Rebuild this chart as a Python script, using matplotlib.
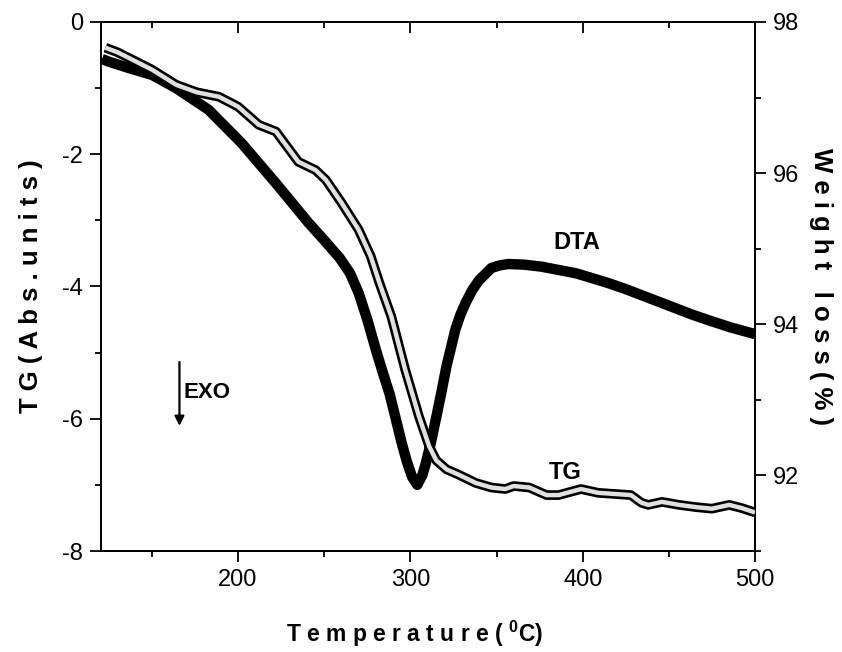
import numpy as np
import matplotlib
matplotlib.use('Agg')
import matplotlib.pyplot as plt
from matplotlib.ticker import MultipleLocator

# --- Data ---
# DTA curve, left axis (filled diamonds)
dta_temp = [121, 125, 137, 150, 164, 183, 202, 222, 241, 250, 259, 265, 270,
            275, 280, 284, 288, 292, 295, 298, 301, 304, 307, 309, 312, 315,
            318, 321, 324, 326, 329, 332, 336, 340, 344, 347, 352, 357, 366,
            376, 386, 396, 405, 415, 425, 434, 444, 454, 463, 473, 486, 500]
dta_val = [-0.56, -0.60, -0.70, -0.80, -1.00, -1.33, -1.83, -2.44, -3.04,
           -3.30, -3.57, -3.80, -4.10, -4.50, -4.96, -5.30, -5.63, -6.05,
           -6.37, -6.65, -6.88, -7.00, -6.85, -6.67, -6.35, -5.98, -5.60,
           -5.20, -4.88, -4.66, -4.43, -4.25, -4.05, -3.90, -3.80, -3.72,
           -3.68, -3.66, -3.67, -3.70, -3.75, -3.80, -3.87, -3.95, -4.04,
           -4.13, -4.23, -4.33, -4.42, -4.51, -4.62, -4.72]

# TG curve, right axis (open circles)
tg_temp = [123, 130, 137, 150, 164, 176, 189, 200, 212, 222, 235, 245, 251,
           260, 270, 277, 282, 289, 297, 305, 311, 315, 321, 328, 338, 347,
           355, 360, 369, 379, 386, 399, 409, 428, 434, 438, 446, 456, 466,
           475, 485, 492, 500]
tg_val = [97.66, 97.60, 97.52, 97.37, 97.17, 97.07, 97.01, 96.88, 96.64,
          96.55, 96.15, 96.04, 95.91, 95.61, 95.25, 94.90, 94.55, 94.10,
          93.40, 92.78, 92.38, 92.20, 92.08, 92.01, 91.90, 91.84, 91.82,
          91.86, 91.84, 91.74, 91.74, 91.82, 91.77, 91.74, 91.64, 91.61,
          91.65, 91.61, 91.58, 91.56, 91.61, 91.57, 91.51]

x_ticks = [200, 300, 400, 500]
left_ticks = [-8, -6, -4, -2, 0]
right_ticks = [92, 94, 96, 98]

FONT = ['Liberation Sans', 'DejaVu Sans']
plt.rcParams['font.family'] = FONT
plt.rcParams['axes.unicode_minus'] = False
plt.rcParams['mathtext.fontset'] = 'custom'
plt.rcParams['mathtext.rm'] = 'Liberation Sans'
plt.rcParams['mathtext.bf'] = 'Liberation Sans:bold'

LW = 1.3


def set_ticks(ax, axis):
    ax.tick_params(axis=axis, which='both', direction='out', labelsize=17,
                   pad=5, width=LW)
    ax.tick_params(axis=axis, which='major', length=8)
    ax.tick_params(axis=axis, which='minor', length=4.5)


def main():
    fig = plt.figure(figsize=(8.42, 6.52), dpi=100)
    ax = fig.add_axes([0.12, 0.1549, 0.7767, 0.8114])
    ax2 = ax.twinx()

    # DTA as a heavy black band
    ax.plot(dta_temp, dta_val, color='black', lw=7.5,
            solid_joinstyle='round', solid_capstyle='butt', zorder=3)

    # TG as a hollow tube (open circle chain look)
    ax2.plot(tg_temp, tg_val, color='black', lw=7,
             solid_joinstyle='round', solid_capstyle='butt', zorder=3)
    ax2.plot(tg_temp, tg_val, color='#e0e0e0', lw=3.2,
             solid_joinstyle='round', solid_capstyle='butt', zorder=4)

    ax.set_xlim(120.5, 500)
    ax.set_ylim(-8, 0)
    ax2.set_ylim(91, 98)

    ax.set_xticks(x_ticks)
    ax.xaxis.set_minor_locator(MultipleLocator(50))
    ax.set_yticks(left_ticks)
    ax.yaxis.set_minor_locator(MultipleLocator(1))
    ax2.set_yticks(right_ticks)
    ax2.yaxis.set_minor_locator(MultipleLocator(1))

    set_ticks(ax, 'x')
    set_ticks(ax, 'y')
    set_ticks(ax2, 'y')
    ax.tick_params(axis='x', which='both', top=False)

    # inward ticks along the top edge
    top = ax.secondary_xaxis('top')
    top.set_xticks(x_ticks)
    top.xaxis.set_minor_locator(MultipleLocator(50))
    top.tick_params(axis='x', which='both', direction='in', labeltop=False,
                    width=LW)
    top.tick_params(axis='x', which='major', length=8)
    top.tick_params(axis='x', which='minor', length=4.5)
    top.spines['top'].set_linewidth(LW)

    for a in (ax, ax2):
        for sp in a.spines.values():
            sp.set_linewidth(LW)

    ax.set_xlabel(r'T e m p e r a t u r e ( $\mathbf{^{0}}$C)',
                  fontsize=16.5, fontweight='bold')
    ax.xaxis.set_label_coords(0.48, -0.128)
    ax.set_ylabel('T G ( A b s . u n i t s )', fontsize=18.5,
                  fontweight='bold', labelpad=14)
    ax2.set_ylabel('W e i g h t   l o s s ( % )', fontsize=18.5,
                   fontweight='bold', rotation=-90, labelpad=24)

    # curve labels
    ax.text(396.5, -3.33, 'DTA', fontsize=17, fontweight='bold',
            ha='center', va='center')
    ax.text(390, -6.81, 'TG', fontsize=17, fontweight='bold',
            ha='center', va='center')

    # EXO arrow
    ax.annotate('', xy=(166, -6.15), xytext=(166, -5.1),
                arrowprops=dict(arrowstyle='-|>', color='black', lw=1.6,
                                mutation_scale=14))
    ax.text(168.5, -5.6, 'EXO', fontsize=16, fontweight='bold',
            ha='left', va='center')

    fig.savefig('out.png', dpi=100)
    plt.close(fig)


if __name__ == '__main__':
    main()
